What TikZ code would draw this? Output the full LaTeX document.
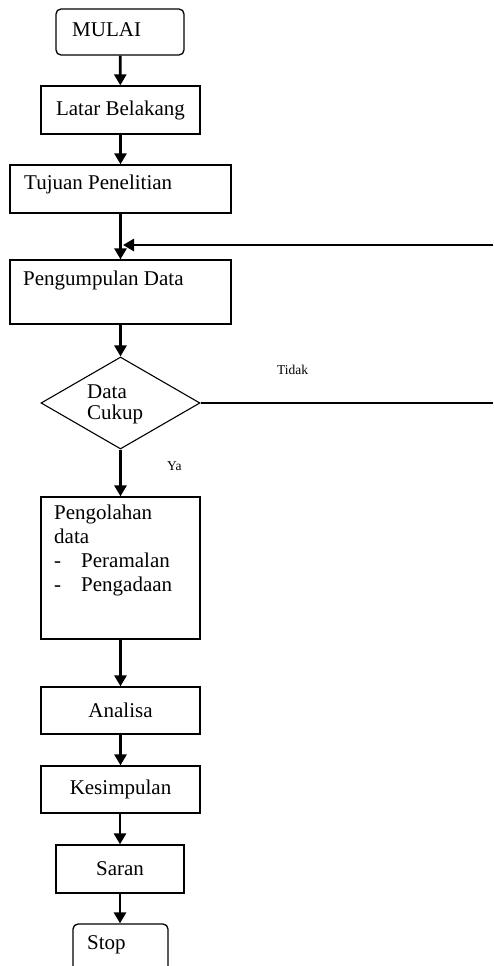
\documentclass[tikz,border=0pt]{standalone}
\usepackage{fontspec}
\setmainfont{Liberation Serif}
\usetikzlibrary{arrows.meta,shapes.geometric}
\tikzset{
  box/.style={draw, line width=1.3pt, rectangle, inner sep=0pt, font=\fontsize{21}{24}\selectfont},
  rbox/.style={box, rounded corners=5pt},
  txt/.style={inner sep=0pt, font=\fontsize{21}{24}\selectfont, align=left},
  small/.style={inner sep=0pt, font=\fontsize{13.5}{15}\selectfont},
  flow/.style={line width=2.8pt, -{Triangle[length=11pt,width=12pt]}},
  thinline/.style={line width=1.3pt}
}
\begin{document}
\begin{tikzpicture}[x=1pt,y=-1pt]
\useasboundingbox (0,0) rectangle (493,966);
\clip (0,0) rectangle (493,966);
% nodes
\node[rbox, minimum width=128pt, minimum height=46pt] (mulai) at (120,32) {};
\node[txt, anchor=west] (mulait) at (72,30) {MULAI};
\node[box, minimum width=159pt, minimum height=48pt] (latar) at (120.5,110) {Latar Belakang};
\node[box, minimum width=221pt, minimum height=48pt] (tujuan) at (120.5,189) {};
\node[txt, anchor=west] (tujuant) at (24,184) {Tujuan Penelitian};
\node[box, minimum width=221pt, minimum height=64pt] (kumpul) at (120.5,292) {};
\node[txt, anchor=west] (kumpult) at (23,280) {Pengumpulan Data};
\node[diamond, draw, line width=1.1pt, inner sep=0pt, aspect=1.73, minimum width=159pt, minimum height=92pt] (cukup) at (120.5,403) {};
\node[txt, anchor=west, font=\fontsize{21}{21}\selectfont] (cukupt) at (87,404) {Data\\Cukup};
\node[small, anchor=west] (tidak) at (277,370) {Tidak};
\node[small, anchor=west] (ya) at (167,466) {Ya};
\node[box, minimum width=159pt, minimum height=142pt] (olah) at (120.5,568) {};
\node[txt, anchor=north west] (olaht) at (54,505) {Pengolahan\\data\\-\hspace{20pt}Peramalan\\-\hspace{20pt}Pengadaan};
\node[box, minimum width=159pt, minimum height=47pt] (analisa) at (120.5,710.5) {Analisa};
\node[box, minimum width=159pt, minimum height=47pt] (simpul) at (120.5,789.5) {Kesimpulan};
\node[box, minimum width=128pt, minimum height=48pt] (saran) at (120,869) {Saran};
\node[rbox, minimum width=95pt, minimum height=70pt] (stop) at (120.5,959) {};
\node[txt, anchor=west] (stopt) at (87,945) {Stop};
\coordinate (fbA) at (493,245);
\coordinate (fbB) at (123,245);
\coordinate (tdk) at (493,403);
% connectors
\draw[flow] (mulai) -- (latar);
\draw[flow] (latar) -- (tujuan.north -| latar);
\draw[flow] (tujuan.south -| latar) -- (kumpul.north -| latar);
\draw[flow] (fbA) -- (fbB);
\draw[flow] (kumpul.south -| cukup) -- (cukup.north);
\draw[thinline] (cukup.east) -- (tdk);
\draw[flow] (cukup.south) -- (olah.north);
\draw[flow] (olah) -- (analisa);
\draw[flow] (analisa) -- (simpul);
\draw[flow] (simpul.south -| saran) -- (saran.north);
\draw[flow] (saran) -- (stop.north -| saran);
\end{tikzpicture}
\end{document}
